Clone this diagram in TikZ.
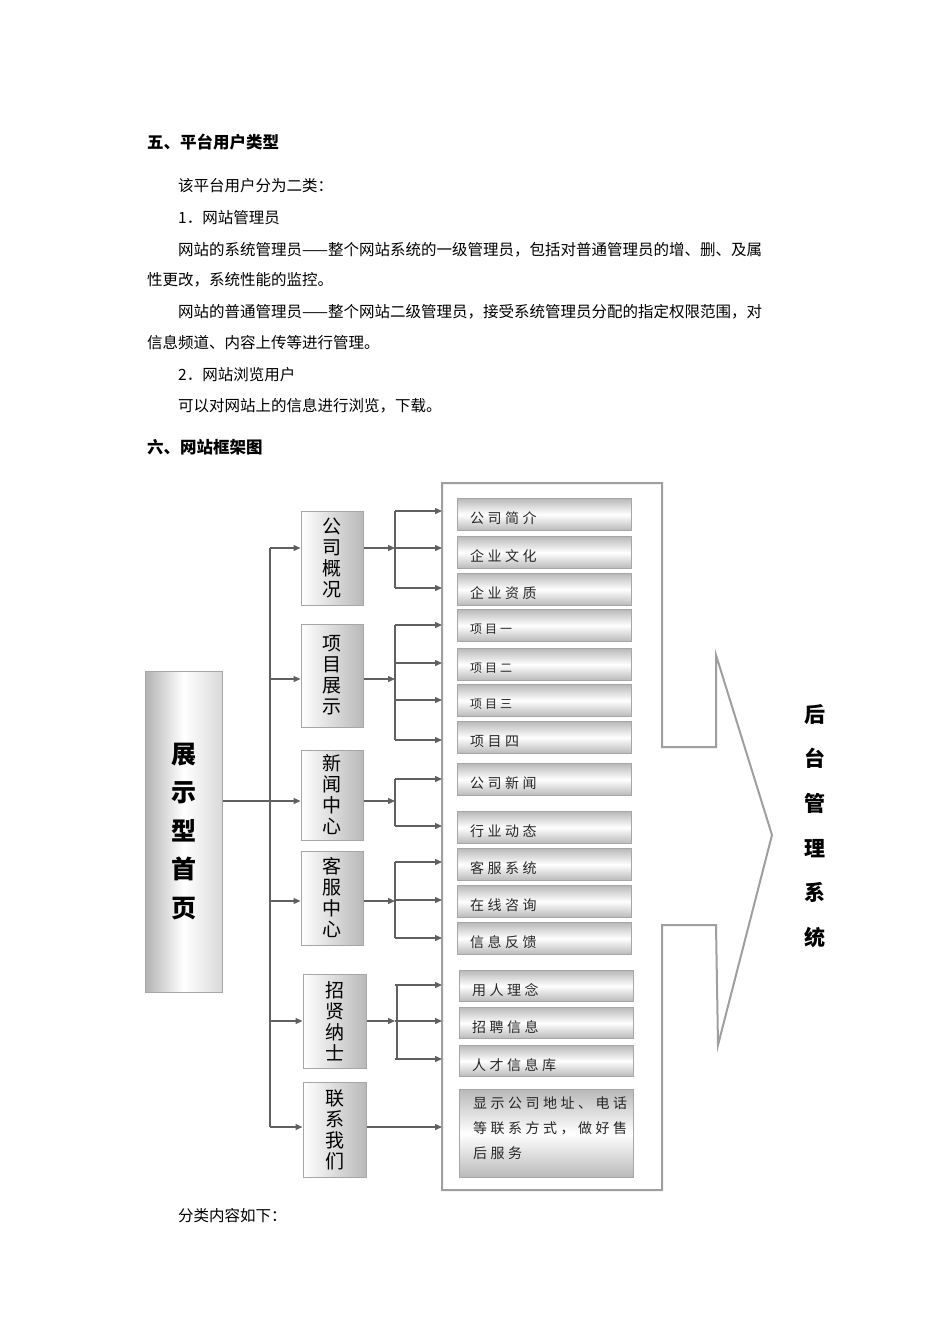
\documentclass[tikz,border=0pt]{standalone}
\usepackage{fontspec}
\setmainfont{Liberation Serif}
\newfontfamily\cjk{Noto Sans CJK SC}
\newfontfamily\leaffont[LetterSpace=25]{Noto Sans CJK SC}
\usetikzlibrary{arrows.meta,shadings}
\begin{document}
\begin{tikzpicture}[x=1pt,y=-1pt,
  body/.style={anchor=west,inner sep=0,font=\cjk\fontsize{15.5}{18}\selectfont},
  head/.style={anchor=west,inner sep=0,font=\cjk\bfseries\fontsize{16.5}{18}\selectfont},
  lev/.style={draw=gray!70,line width=1pt,left color=white,right color=gray!55,inner sep=0,align=center,font=\cjk\fontsize{19}{21}\selectfont},
  leaf/.style={draw=gray!70,line width=1pt,top color=gray!55,bottom color=gray!55,middle color=white,inner sep=0,anchor=north west,minimum width=174pt},
  lt/.style={anchor=west,inner sep=0,font=\leaffont\fontsize{14}{16}\selectfont,text=black!85},
  con/.style={draw=gray!75!black,line width=1.3pt},
  arr/.style={con,-{Triangle[length=7pt,width=6pt]}}]
\useasboundingbox (0,0) rectangle (950,1344);
\fill[white] (0,0) rectangle (950,1344);
% text
\node[head] (h5) at (147,142) {五、平台用户类型};
\node[body] (t1) at (178,186) {该平台用户分为二类：};
\node[body] (t2) at (178,218) {1．网站管理员};
\node[body] (t3) at (178,250) {网站的系统管理员——整个网站系统的一级管理员，包括对普通管理员的增、删、及属};
\node[body] (t4) at (147,280) {性更改，系统性能的监控。};
\node[body] (t5) at (178,312) {网站的普通管理员——整个网站二级管理员，接受系统管理员分配的指定权限范围，对};
\node[body] (t6) at (147,343) {信息频道、内容上传等进行管理。};
\node[body] (t7) at (178,375) {2．网站浏览用户};
\node[body] (t8) at (178,406) {可以对网站上的信息进行浏览，下载。};
\node[head] (h6) at (147,447) {六、网站框架图};
\node[body] (t9) at (178,1216) {分类内容如下：};
% outline
\draw[gray!75,line width=2pt] (442,483) -- (662,483) -- (662,747) -- (716,747) -- (716,655) -- (772,835) -- (718,1045) -- (716,925) -- (662,925) -- (662,1190) -- (442,1190) -- cycle;
\node[font=\cjk\bfseries\fontsize{21}{44.6}\selectfont,align=center,inner sep=0] (bk) at (815,826) {后\\台\\管\\理\\系\\统};
% main box
\node[draw=gray!70,line width=1pt,left color=gray!60,right color=gray!30,middle color=white,minimum width=77pt,minimum height=321pt,inner sep=0,align=center,font=\cjk\bfseries\fontsize{25}{38.5}\selectfont] (m) at (183.5,831.5) {展\\示\\型\\首\\页};
% level 2
\node[lev,minimum width=62pt,minimum height=94pt] (a) at (332,558) {公\\司\\概\\况};
\node[lev,minimum width=62pt,minimum height=103pt] (b) at (332,675.5) {项\\目\\展\\示};
\node[lev,minimum width=62pt,minimum height=90pt] (c) at (332,795) {新\\闻\\中\\心};
\node[lev,minimum width=62pt,minimum height=94pt] (d) at (332,898) {客\\服\\中\\心};
\node[lev,minimum width=63pt,minimum height=94pt] (e) at (334.5,1021) {招\\贤\\纳\\士};
\node[lev,minimum width=63pt,minimum height=95pt] (f) at (334.5,1129.5) {联\\系\\我\\们};
% trunk
\coordinate (tr) at (270,801);
\draw[con] (m.east |- tr) -- (tr);
\draw[con] (270,548) -- (270,1127);
\foreach \n/\y in {a/548,b/679,c/801,d/901,e/1021,f/1127}{
  \draw[arr] (270,\y) -- (\n.west |- 0,\y);
}
% leaves
\foreach \nm/\x/\y/\h/\t/\s in {
 l1/457/498/32/公司简介/14, l2/457/536/32/企业文化/14, l3/457/573/32/企业资质/14,
 l4/457/609/32/项目一/12, l5/457/648/32/项目二/12, l6/457/684/32/项目三/12, l7/457/721/32/项目四/14,
 l8/457/763/32/公司新闻/14, l9/457/811/32/行业动态/14, l10/457/848/32/客服系统/14,
 l11/457/885/32/在线咨询/14, l12/457/922/32/信息反馈/14,
 l13/459/970/31/用人理念/14, l14/459/1007/31/招聘信息/14, l15/459/1045/31/人才信息库/14}{
  \node[leaf,minimum height=\h pt] (\nm) at (\x,\y) {};
  \node[lt,font=\leaffont\fontsize{\s}{16}\selectfont] at ([xshift=13pt,yshift=-4pt]\nm.west) {\t};
}
\node[leaf,minimum height=88pt,minimum width=174pt] (l16) at (459,1089) {};
\node[anchor=north west,inner sep=0,align=left,font=\leaffont\fontsize{14}{25}\selectfont,text=black!85] at (473,1097) {显示公司地址、电话\\等联系方式，做好售\\后服务};
% branches
\foreach \n/\y/\ys in {a/548/{511,548,588},b/679/{625,663,700,740},c/801/{779,826},d/901/{862,900,938},e/1021/{985,1021,1059}}{
  \draw[arr] (\n.east |- 0,\y) -- (395,\y);
  \foreach \yy in \ys { \draw[arr] (395,\yy) -- (442,\yy); }
}
\draw[con] (395,511) -- (395,588);
\draw[con] (395,625) -- (395,740);
\draw[con] (395,779) -- (395,826);
\draw[con] (395,862) -- (395,938);
\draw[con] (397,985) -- (397,1059);
\draw[arr] (f.east |- 0,1127) -- (442,1127);
\end{tikzpicture}
\end{document}
